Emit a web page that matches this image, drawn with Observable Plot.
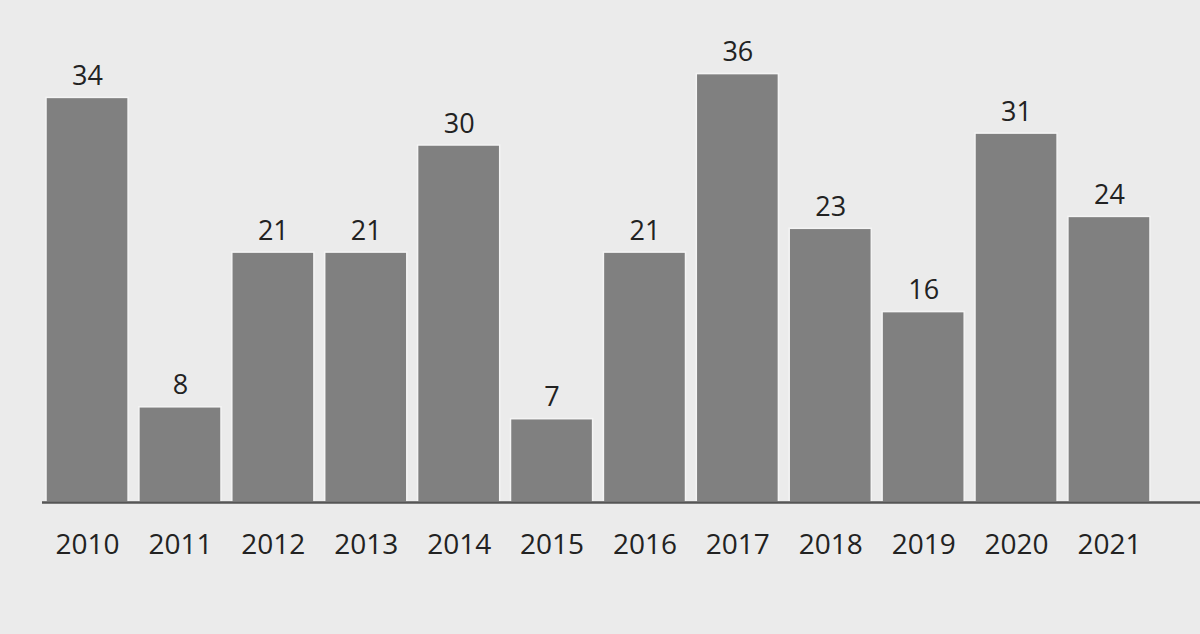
<!DOCTYPE html>
<html>
<head>
<meta charset="utf-8">
<script src="https://cdn.jsdelivr.net/npm/d3@7"></script>
<script src="https://cdn.jsdelivr.net/npm/@observablehq/plot@0.6"></script>
<style>
  html, body { margin: 0; padding: 0; background: #ebebeb; }
  #chart svg { display: block; }
</style>
</head>
<body>
<div id="chart"></div>
<script>
const years = ["2010","2011","2012","2013","2014","2015","2016","2017","2018","2019","2020","2021"];
const values = [34, 8, 21, 21, 30, 7, 21, 36, 23, 16, 31, 24];

const data = years.map((year, i) => ({year, value: values[i]}));

const chart = Plot.plot({
  width: 1200,
  height: 634,
  marginLeft: 42,
  marginRight: 0,
  marginTop: 0,
  marginBottom: 132,
  style: {background: "#ebebeb", fontFamily: "'Open Sans', sans-serif", color: "#222"},
  x: {domain: years, range: [40.6, 1155.4], padding: 0, round: false, label: null},
  y: {domain: [0, 40], range: [502, 26], axis: null},
  marks: [
    Plot.barY(data, {x: "year", y: "value", fill: "#808080", stroke: "#f4f4f4", strokeWidth: 1.5, insetLeft: 5.4, insetRight: 5.4}),
    Plot.ruleY([0], {stroke: "#555", strokeWidth: 2.5}),
    Plot.text(data, {x: "year", y: "value", text: d => String(d.value), dy: -13, lineAnchor: "bottom", fontSize: 27, fill: "#222"}),
    Plot.axisX({tickSize: 0, tickPadding: 32, fontSize: 28, fill: "#222", label: null})
  ]
});
document.getElementById("chart").appendChild(chart);
</script>
</body>
</html>
